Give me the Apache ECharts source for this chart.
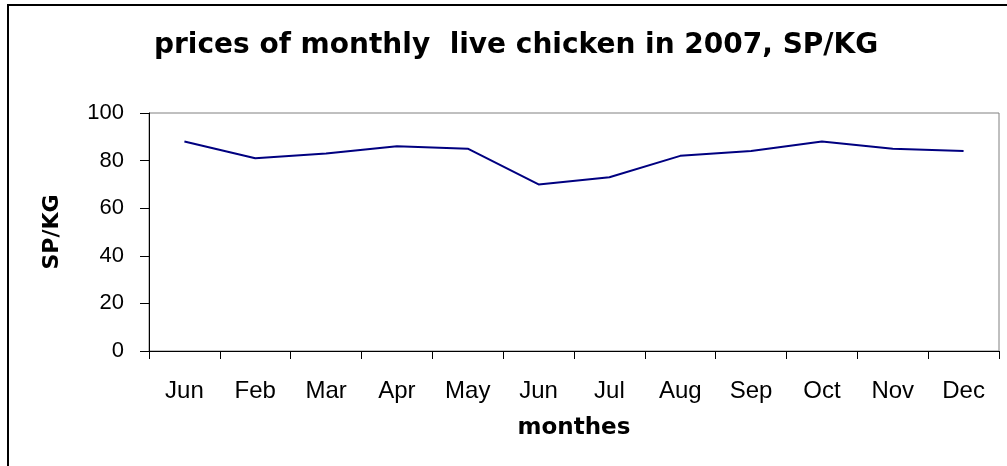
<!DOCTYPE html>
<html>
<head>
<meta charset="utf-8">
<script src="https://cdn.jsdelivr.net/npm/echarts@6/dist/echarts.min.js"></script>
<style>
html,body{margin:0;padding:0;background:#fff;}
#chart{width:1007px;height:466px;}
</style>
</head>
<body>
<div id="chart"></div>
<script>
const months = ['Jun','Feb','Mar','Apr','May','Jun','Jul','Aug','Sep','Oct','Nov','Dec'];
const prices = [88, 81, 83, 86, 85, 70, 73, 82, 84, 88, 85, 84];
const yTicks = [0, 20, 40, 60, 80, 100];

const chart = echarts.init(document.getElementById('chart'));
chart.setOption({
  animation: false,
  backgroundColor: '#fff',
  title: {
    text: 'prices of monthly  live chicken in 2007, SP/KG',
    left: 149,
    top: 27,
    textStyle: {fontFamily: 'DejaVu Sans', fontWeight: 'bold', fontSize: 28, color: '#000'}
  },
  graphic: [{
    type: 'rect',
    shape: {x: 8, y: 5, width: 1200, height: 700},
    style: {fill: 'none', stroke: '#000', lineWidth: 2},
    silent: true
  }],
  grid: {
    left: 149, top: 113, width: 850, height: 238,
    show: true, borderColor: '#808080', borderWidth: 1, backgroundColor: 'transparent'
  },
  xAxis: {
    type: 'category',
    data: months,
    boundaryGap: true,
    name: 'monthes',
    nameLocation: 'middle',
    nameGap: 66,
    nameTextStyle: {fontFamily: 'DejaVu Sans', fontWeight: 'bold', fontSize: 23, color: '#000'},
    axisLine: {lineStyle: {color: '#000', width: 1}},
    axisTick: {show: true, interval: 0, length: 8, inside: false, lineStyle: {color: '#000'}},
    axisLabel: {interval: 0, margin: 28, fontFamily: 'Liberation Sans', fontSize: 24, color: '#000'},
    splitLine: {show: false}
  },
  yAxis: {
    type: 'value',
    min: yTicks[0],
    max: yTicks[yTicks.length - 1],
    interval: yTicks[1] - yTicks[0],
    name: 'SP/KG',
    nameLocation: 'middle',
    nameGap: 86,
    nameRotate: 90,
    nameTextStyle: {fontFamily: 'DejaVu Sans', fontWeight: 'bold', fontSize: 22, color: '#000'},
    axisLine: {show: true, lineStyle: {color: '#000', width: 1}},
    axisTick: {show: true, length: 9, inside: false, lineStyle: {color: '#000'}},
    axisLabel: {margin: 25, fontFamily: 'Liberation Sans', fontSize: 22, color: '#000'},
    splitLine: {show: false}
  },
  series: [{
    type: 'line',
    data: prices,
    showSymbol: false,
    symbol: 'none',
    lineStyle: {color: '#000080', width: 2},
    itemStyle: {color: '#000080'}
  }]
});
</script>
</body>
</html>
